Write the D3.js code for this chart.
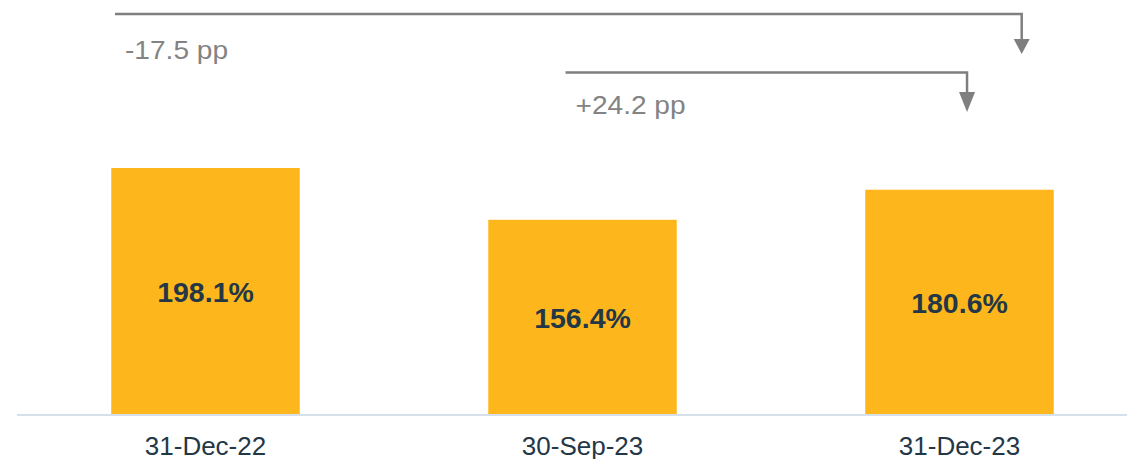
<!DOCTYPE html>
<html>
<head>
<meta charset="utf-8">
<script src="https://cdn.jsdelivr.net/npm/d3@7/dist/d3.min.js"></script>
<style>
  html, body { margin: 0; padding: 0; background: #ffffff; }
  svg { display: block; font-family: Arial, "Liberation Sans", Helvetica, sans-serif; }
</style>
</head>
<body>
<svg id="chart" width="1127" height="459"></svg>
<script>
// Ratio at each reporting date (%)
const categories = ["31-Dec-22", "30-Sep-23", "31-Dec-23"];
const values = [198.1, 156.4, 180.6];

// Change brackets: compare a period with the latest one
const comparisons = [
  { from: "31-Dec-22", to: "31-Dec-23" },
  { from: "30-Sep-23", to: "31-Dec-23" }
];

const W = 1127, H = 459;
const baseY = 414;
const barColor = "#FDB71C";
const darkText = "#243746";
const grey = "#7F7F7F";

const svg = d3.select("#chart");

const x = d3.scaleBand()
  .domain(categories)
  .range([17, 1148])
  .paddingInner(0.5)
  .paddingOuter(0.25);

const y = d3.scaleLinear()
  .domain([0, 200])
  .range([baseY, baseY - 200 * 1.2418]);

const data = categories.map((c, i) => ({ cat: c, value: values[i] }));

// Bars
svg.append("g").selectAll("rect")
  .data(data)
  .join("rect")
  .attr("x", d => x(d.cat))
  .attr("y", d => y(d.value))
  .attr("width", x.bandwidth())
  .attr("height", d => y(0) - y(d.value))
  .attr("fill", barColor);

// Value labels centred in each bar
svg.append("g").selectAll("text")
  .data(data)
  .join("text")
  .attr("x", d => x(d.cat) + x.bandwidth() / 2)
  .attr("y", d => (y(d.value) + y(0)) / 2 + 11)
  .attr("text-anchor", "middle")
  .attr("font-size", 28.5)
  .attr("font-weight", "bold")
  .attr("fill", darkText)
  .text(d => d3.format(".1f")(d.value) + "%");

// Baseline
svg.append("line")
  .attr("x1", 17).attr("x2", W)
  .attr("y1", baseY + 1).attr("y2", baseY + 1)
  .attr("stroke", "#D6E0EA")
  .attr("stroke-width", 2);

// Category axis (labels only)
const xAxis = d3.axisBottom(x).tickSize(0).tickPadding(0);
const axisG = svg.append("g")
  .attr("transform", `translate(0, ${baseY})`)
  .call(xAxis);
axisG.select(".domain").remove();
axisG.selectAll("text")
  .attr("dy", null)
  .attr("y", 40.5)
  .attr("font-size", 26)
  .attr("font-family", "Arial, 'Liberation Sans', Helvetica, sans-serif")
  .attr("fill", darkText);

// Change brackets with arrowheads
const bracketLayout = [
  { lineY: 14, startFrac: 0.02, endFrac: 0.83, headTop: 39, headTip: 54, labelY: 59 },
  { lineY: 72.5, startFrac: 0.41, endFrac: 0.54, headTop: 92, headTip: 112, labelY: 113.5 }
];
const fmtDelta = d3.formatLocale({ decimal: ".", thousands: ",", grouping: [3], currency: ["", ""], minus: "-" })
  .format("+.1f");

comparisons.forEach((c, i) => {
  const L = bracketLayout[i];
  const vFrom = values[categories.indexOf(c.from)];
  const vTo = values[categories.indexOf(c.to)];
  const x0 = x(c.from) + L.startFrac * x.bandwidth();
  const x1 = x(c.to) + L.endFrac * x.bandwidth();
  const g = svg.append("g");
  g.append("path")
    .attr("d", `M${x0},${L.lineY}H${x1}V${L.headTop + 1}`)
    .attr("fill", "none")
    .attr("stroke", grey)
    .attr("stroke-width", 2.5);
  g.append("path")
    .attr("d", `M${x1 - 8},${L.headTop}L${x1 + 8},${L.headTop}L${x1},${L.headTip}Z`)
    .attr("fill", grey);
  // slightly widened label text
  g.append("text")
    .attr("transform", `translate(${x0 + 10},${L.labelY}) scale(1.08,1)`)
    .attr("font-size", 26)
    .attr("fill", "#838383")
    .text(fmtDelta(vTo - vFrom) + " pp");
});
</script>
</body>
</html>
